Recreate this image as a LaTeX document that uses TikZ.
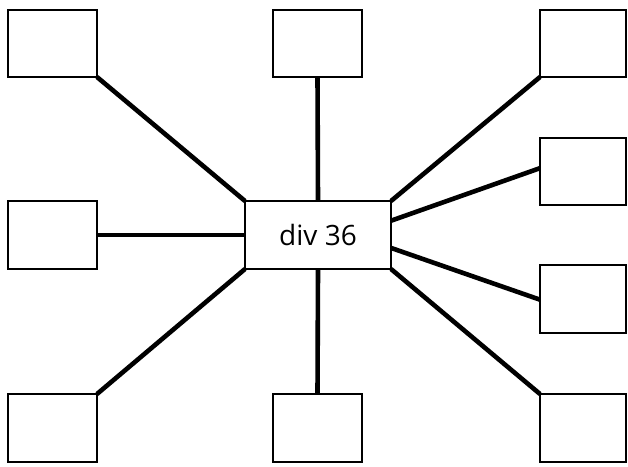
\documentclass[tikz,border=0pt]{standalone}
\usepackage{fontspec}
\setmainfont{Open Sans}
\usetikzlibrary{calc}
\begin{document}
\begin{tikzpicture}[x=1pt,y=-1pt,
  leaf/.style={draw,line width=1.6pt,minimum width=89pt,minimum height=67pt,inner sep=0pt,outer sep=0pt,anchor=north west},
  hub/.style={draw,line width=1.6pt,minimum width=146pt,minimum height=68pt,inner sep=0pt,outer sep=0pt,font=\fontsize{28}{32}\selectfont},
  link/.style={line width=4.6pt}]
\useasboundingbox (0,0) rectangle (628,466);
\node[hub] (c) at (318,235) {div 36};
\node[leaf] (tl) at (8,10) {};
\node[leaf] (tm) at (273,10) {};
\node[leaf,minimum width=86pt] (tr) at (540,10) {};
\node[leaf,minimum width=86pt] (r1) at (540,138) {};
\node[leaf,minimum height=68pt] (ml) at (8,201) {};
\node[leaf,minimum width=86pt,minimum height=68pt] (r2) at (540,265) {};
\node[leaf,minimum height=68pt] (bl) at (8,394) {};
\node[leaf,minimum height=68pt] (bm) at (273,394) {};
\node[leaf,minimum width=86pt,minimum height=68pt] (br) at (540,394) {};
\draw[link] (tl.south east) -- (c.north west);
\draw[link] (tm.south) -- (c.north);
\draw[link] (tr.south west) -- (c.north east);
\draw[link] ($(r1.north west)!0.45!(r1.south west)$) -- ($(c.north east)!0.29!(c.south east)$);
\draw[link] ($(r2.north west)!0.51!(r2.south west)$) -- ($(c.north east)!0.69!(c.south east)$);
\draw[link] (ml.east) -- (c.west);
\draw[link] (bl.north east) -- (c.south west);
\draw[link] (bm.north) -- (c.south);
\draw[link] (br.north west) -- (c.south east);
\end{tikzpicture}
\end{document}
